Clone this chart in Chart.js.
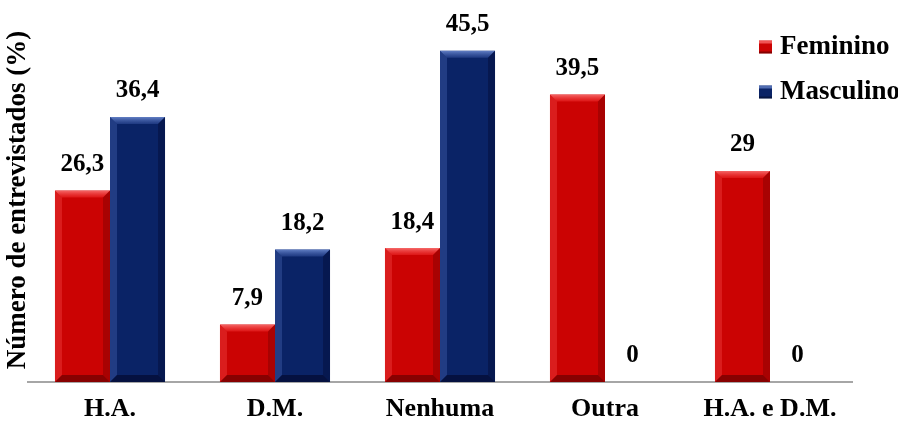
<!DOCTYPE html>
<html>
<head>
<meta charset="utf-8">
<script src="https://cdn.jsdelivr.net/npm/chart.js@4.4.1/dist/chart.umd.min.js"></script>
<style>
  html, body { margin: 0; padding: 0; background: #ffffff; }
  #wrap { width: 898px; height: 425px; position: relative; }
</style>
</head>
<body>
<div id="wrap"><canvas id="c" width="898" height="425"></canvas></div>
<script>
// Categories and series values (percent of interviewees)
const categories = ['H.A.', 'D.M.', 'Nenhuma', 'Outra', 'H.A. e D.M.'];
const feminino = [26.3, 7.9, 18.4, 39.5, 29];
const masculino = [36.4, 18.2, 45.5, 0, 0];
const seriesNames = ['Feminino', 'Masculino'];
const yTitle = 'Número de entrevistados (%)';

const SERIF = '"Liberation Serif", "Times New Roman", serif';
const RED = '#CB0303';
const BLUE = '#0A2366';

// Number formatting with comma as decimal separator
function fmt(v) { return String(v).replace('.', ','); }

// Bevelled look on each bar: light top/left edges, dark bottom/right edges
const bevelPlugin = {
  id: 'bevel',
  afterDatasetsDraw(chart) {
    const ctx = chart.ctx;
    const palette = [
      { top: ['rgba(255,130,130,0.8)', 'rgba(255,60,60,0.35)'], left: 'rgba(255,90,90,0.3)', right: 'rgba(90,0,0,0.3)', bottom: 'rgba(80,0,0,0.55)' },
      { top: ['rgba(120,150,220,0.8)', 'rgba(70,100,180,0.35)'], left: 'rgba(90,120,200,0.3)', right: 'rgba(0,0,30,0.3)', bottom: 'rgba(0,0,25,0.5)' }
    ];
    chart.data.datasets.forEach((ds, di) => {
      const meta = chart.getDatasetMeta(di);
      meta.data.forEach(bar => {
        const p = bar.getProps(['x', 'y', 'base', 'width'], true);
        const h = p.base - p.y;
        if (h < 2) return;
        const l = p.x - p.width / 2, r = p.x + p.width / 2, t = p.y, b = p.base;
        const e = Math.min(7, h / 2);
        const c = palette[di];
        ctx.save();
        // top edge
        const g = ctx.createLinearGradient(0, t, 0, t + e);
        g.addColorStop(0, c.top[0]);
        g.addColorStop(1, c.top[1]);
        ctx.fillStyle = g;
        ctx.beginPath();
        ctx.moveTo(l, t); ctx.lineTo(r, t); ctx.lineTo(r - e, t + e); ctx.lineTo(l + e, t + e); ctx.closePath(); ctx.fill();
        // left edge
        ctx.fillStyle = c.left;
        ctx.beginPath();
        ctx.moveTo(l, t); ctx.lineTo(l + e, t + e); ctx.lineTo(l + e, b - e); ctx.lineTo(l, b); ctx.closePath(); ctx.fill();
        // right edge
        ctx.fillStyle = c.right;
        ctx.beginPath();
        ctx.moveTo(r, t); ctx.lineTo(r - e, t + e); ctx.lineTo(r - e, b - e); ctx.lineTo(r, b); ctx.closePath(); ctx.fill();
        // bottom edge
        ctx.fillStyle = c.bottom;
        ctx.beginPath();
        ctx.moveTo(l, b); ctx.lineTo(l + e, b - e); ctx.lineTo(r - e, b - e); ctx.lineTo(r, b); ctx.closePath(); ctx.fill();
        ctx.restore();
      });
    });
  }
};

// Value labels above each bar
const valueLabels = {
  id: 'valueLabels',
  afterDatasetsDraw(chart) {
    const ctx = chart.ctx;
    ctx.save();
    ctx.font = 'bold 25px ' + SERIF;
    ctx.fillStyle = '#000';
    ctx.textAlign = 'center';
    ctx.textBaseline = 'middle';
    chart.data.datasets.forEach((ds, di) => {
      const meta = chart.getDatasetMeta(di);
      meta.data.forEach((bar, i) => {
        const p = bar.getProps(['x', 'y'], true);
        ctx.fillText(fmt(ds.data[i]), p.x, p.y - 26);
      });
    });
    ctx.restore();
  }
};

// Legend in the upper right with small bevelled squares
const cornerLegend = {
  id: 'cornerLegend',
  afterDraw(chart) {
    const ctx = chart.ctx;
    const rows = [47, 92];
    ctx.save();
    chart.data.datasets.forEach((ds, di) => {
      const y = rows[di];
      const x = 759, s = 13;
      ctx.fillStyle = ds.backgroundColor;
      ctx.fillRect(x, y - s / 2, s, s);
      ctx.fillStyle = di === 0 ? 'rgba(255,120,120,0.7)' : 'rgba(110,140,210,0.7)';
      ctx.fillRect(x, y - s / 2, s, 3);
      ctx.fillStyle = 'rgba(0,0,0,0.35)';
      ctx.fillRect(x, y + s / 2 - 2, s, 2);
      ctx.font = 'bold 27px ' + SERIF;
      ctx.fillStyle = '#000';
      ctx.textAlign = 'left';
      ctx.textBaseline = 'middle';
      ctx.fillText(ds.label, 780, y);
    });
    ctx.restore();
  }
};

new Chart(document.getElementById('c'), {
  type: 'bar',
  data: {
    labels: categories,
    datasets: [
      { label: seriesNames[0], data: feminino, backgroundColor: RED },
      { label: seriesNames[1], data: masculino, backgroundColor: BLUE }
    ]
  },
  options: {
    responsive: false,
    animation: false,
    devicePixelRatio: 1,
    layout: { padding: { top: 18, right: 45.5, left: 0, bottom: 0 } },
    datasets: { bar: { categoryPercentage: 0.667, barPercentage: 1.0, borderWidth: 0 } },
    plugins: {
      legend: { display: false },
      tooltip: { enabled: false }
    },
    scales: {
      x: {
        grid: { display: false, drawTicks: false },
        border: { display: true, color: '#a6a6a6', width: 2 },
        ticks: {
          color: '#000',
          padding: 12,
          font: { family: SERIF, size: 26, weight: 'bold' }
        },
        afterFit(scale) { scale.height = 43; }
      },
      y: {
        min: 0,
        max: 50,
        grid: { display: false, drawTicks: false },
        border: { display: false },
        ticks: { display: false },
        title: {
          display: true,
          text: yTitle,
          color: '#000',
          padding: { top: 2, bottom: 0 },
          font: { family: SERIF, size: 27, weight: 'bold' }
        },
        afterFit(scale) { scale.width = 27.5; }
      }
    }
  },
  plugins: [bevelPlugin, valueLabels, cornerLegend]
});
</script>
</body>
</html>
